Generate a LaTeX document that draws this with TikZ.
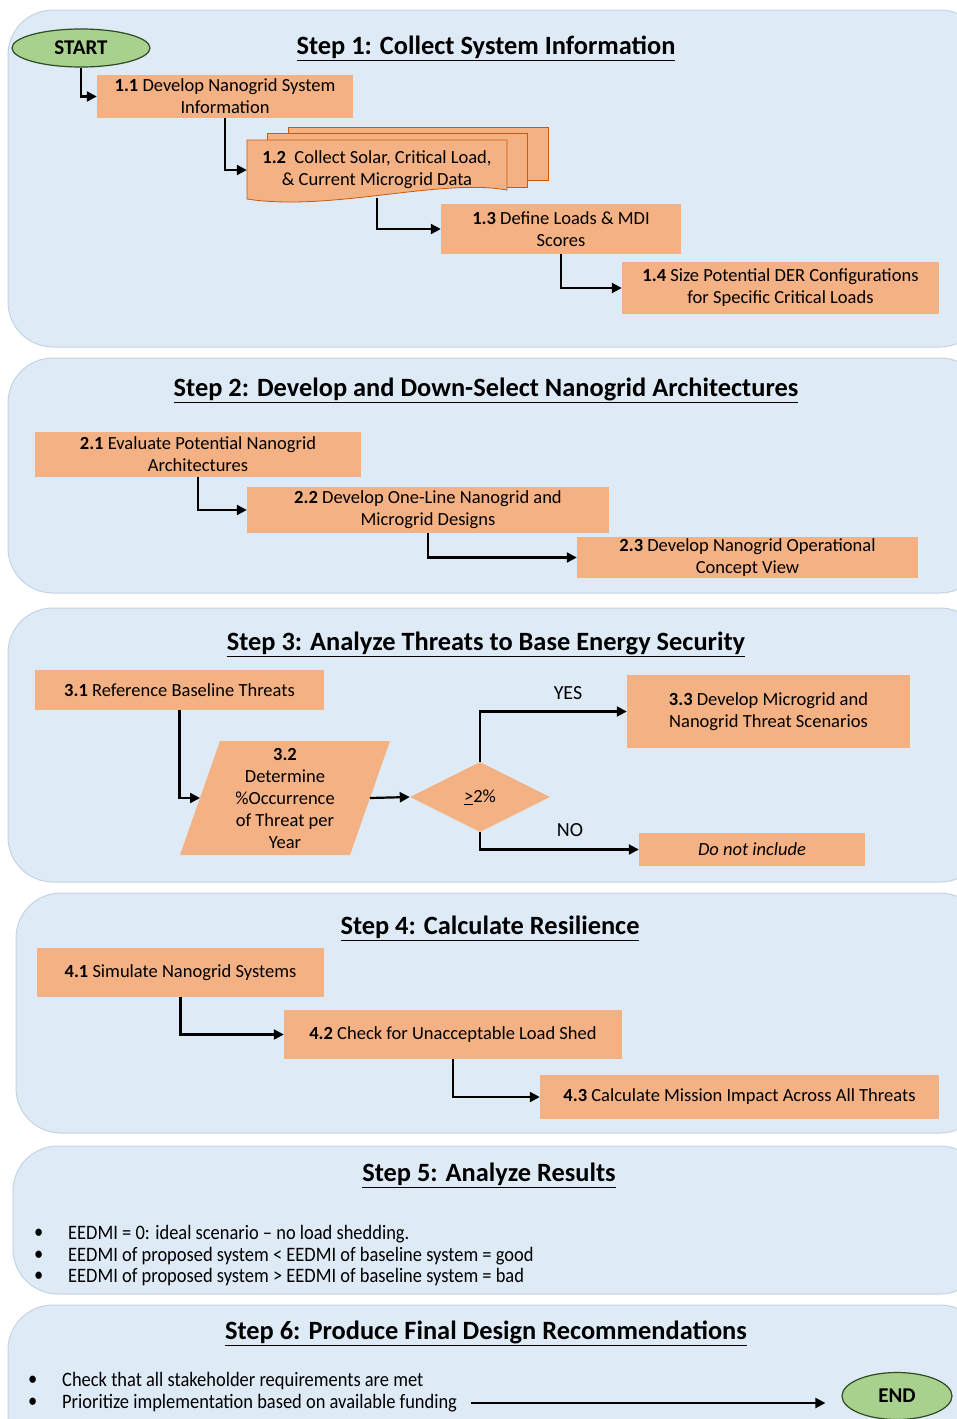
\documentclass[tikz,border=0pt]{standalone}
\usepackage{fontspec}
\setmainfont{Carlito}
\newfontfamily\narrowfont[FakeStretch=0.9,Ligatures=TeX]{Carlito}
\usetikzlibrary{arrows.meta,shapes.geometric}
\definecolor{panelfill}{HTML}{DEEBF7}
\definecolor{panelline}{HTML}{C3D3E4}
\definecolor{boxfill}{HTML}{F4B183}
\definecolor{boxline}{HTML}{C55A11}
\definecolor{ovalfill}{HTML}{A9D18E}
\definecolor{ovalline}{HTML}{2F4A22}
\begin{document}
\begin{tikzpicture}[x=1pt,y=-1pt,
  panel/.style={fill=panelfill, draw=panelline, line width=1pt, rounded corners=45pt},
  steptitle/.style={font=\fontsize{26.4}{30}\selectfont\bfseries},
  stepbox/.style={fill=boxfill, inner sep=2pt, align=center, font=\fontsize{18.5}{22}\selectfont},
  oval/.style={ellipse, fill=ovalfill, draw=ovalline, line width=1.2pt, font=\fontsize{21}{24}\selectfont\bfseries},
  layer/.style={fill=boxfill, draw=boxline, line width=0.8pt},
  arr/.style={-{Triangle[length=10pt,width=10pt]}, line width=2.2pt},
  lbl/.style={font=\fontsize{20}{24}\selectfont},
  bul/.style={anchor=west, inner sep=0pt, font=\fontsize{20.5}{24}\narrowfont}]
\clip (0,0) rectangle (957,1419);
\useasboundingbox (0,0) rectangle (957,1419);

\draw[panel] (8,10) rectangle (985,347);
\draw[panel] (8,358) rectangle (985,593);
\draw[panel] (8,608) rectangle (985,882);
\draw[panel] (16,893) rectangle (985,1133);
\draw[panel] (13,1146) rectangle (985,1294);
\draw[panel] (8,1305) rectangle (985,1470);

\node (t1) at (486,48) [steptitle] {\underline{Step 1: Collect System Information}};
\node (t2) at (486,390) [steptitle] {\underline{Step 2: Develop and Down-Select Nanogrid Architectures}};
\node (t3) at (486,644) [steptitle] {\underline{Step 3: Analyze Threats to Base Energy Security}};
\node (t4) at (490,928) [steptitle] {\underline{Step 4: Calculate Resilience}};
\node (t5) at (489,1175) [steptitle] {\underline{Step 5: Analyze Results}};
\node (t6) at (486,1333) [steptitle] {\underline{Step 6: Produce Final Design Recommendations}};

\node (start) at (81,48) [oval, minimum width=138pt, minimum height=38pt, inner sep=0pt] {START};
\node (n11) at (225,96.5) [stepbox, minimum width=256pt, minimum height=43pt] {\textbf{1.1} Develop Nanogrid System\\Information};
\draw[layer] (288,127) rectangle (548,180);
\draw[layer] (267,133) rectangle (527,187);
\draw[layer] (247,140) -- (507,140) -- (507,190) .. controls (440,178) and (330,212) .. (247,199) -- cycle;
\node (n12) at (377,170) [stepbox, fill=none, minimum width=260pt, minimum height=56pt] {\textbf{1.2}\ \ Collect Solar, Critical Load,\\\& Current Microgrid Data};
\node (n13) at (561,229) [stepbox, minimum width=240pt, minimum height=50pt] {\textbf{1.3} Define Loads \& MDI\\Scores};
\node (n14) at (780.5,288) [stepbox, minimum width=317pt, minimum height=52pt] {\textbf{1.4} Size Potential DER Configurations\\for Specific Critical Loads};
\draw[arr] (start.south) |- (n11.west);
\draw[arr] (n11.south) |- (n12.west);
\draw[arr] (n12.south) |- (n13.west);
\draw[arr] (n13.south) |- (n14.west);

\node (n21) at (198,454.5) [stepbox, minimum width=326pt, minimum height=45pt] {\textbf{2.1} Evaluate Potential Nanogrid\\Architectures};
\node (n22) at (428,510) [stepbox, minimum width=362pt, minimum height=46pt] {\textbf{2.2} Develop One-Line Nanogrid and\\Microgrid Designs};
\node (n23) at (747.5,557.5) [stepbox, minimum width=341pt, minimum height=41pt] {\textbf{2.3} Develop Nanogrid Operational\\Concept View};
\draw[arr] (n21.south) |- (n22.west);
\draw[arr] (n22.south) |- (n23.west);

\node (n31) at (179.5,690) [stepbox, minimum width=289pt, minimum height=40pt] {\textbf{3.1} Reference Baseline Threats};
\fill[boxfill] (180,855) -- (220,741) -- (390,741) -- (350,855) -- cycle;
\node (n32) at (285,798) [stepbox, fill=none] {\textbf{3.2}\\Determine\\\%Occurrence\\of Threat per\\Year};
\coordinate (n32w) at (200,798);
\coordinate (n32e) at (370,798);
\node (dia) at (480,797) [stepbox, diamond, minimum width=140pt, minimum height=70pt, inner sep=0pt] {\underline{>}2\%};
\node (n33) at (768.5,711.5) [stepbox, minimum width=283pt, minimum height=73pt] {\textbf{3.3} Develop Microgrid and\\Nanogrid Threat Scenarios};
\node (nno) at (752,849.5) [stepbox, minimum width=226pt, minimum height=33pt] {\textit{Do not include}};
\draw[arr] (n31.south) |- (n32w);
\draw[arr] (n32e) -- (dia.west);
\draw[arr] (dia.north) |- (n33.west);
\draw[arr] (dia.south) |- (nno.west);
\node (yes) at (568,693) [lbl] {YES};
\node (no) at (570,830) [lbl] {NO};

\node (n41) at (180.5,972.5) [stepbox, minimum width=287pt, minimum height=49pt] {\textbf{4.1} Simulate Nanogrid Systems};
\node (n42) at (453,1034.5) [stepbox, minimum width=338pt, minimum height=49pt] {\textbf{4.2} Check for Unacceptable Load Shed};
\node (n43) at (739.5,1097) [stepbox, minimum width=399pt, minimum height=44pt] {\textbf{4.3} Calculate Mission Impact Across All Threats};
\draw[arr] (n41.south) |- (n42.west);
\draw[arr] (n42.south) |- (n43.west);

\node (d51) at (34,1234) [bul] {\textbullet};
\node (d52) at (34,1256) [bul] {\textbullet};
\node (d53) at (34,1277) [bul] {\textbullet};
\node (b51) at (68,1234) [bul] {EEDMI = 0: ideal scenario – no load shedding.};
\node (b52) at (68,1256) [bul] {EEDMI of proposed system < EEDMI of baseline system = good};
\node (b53) at (68,1277) [bul] {EEDMI of proposed system > EEDMI of baseline system = bad};

\node (d61) at (28,1381) [bul] {\textbullet};
\node (d62) at (28,1403) [bul] {\textbullet};
\node (b61) at (62,1381) [bul] {Check that all stakeholder requirements are met};
\node (b62) at (62,1403) [bul] {Prioritize implementation based on available funding};
\node (end) at (897,1396) [oval, minimum width=110pt, minimum height=47pt, inner sep=0pt] {END};
\draw[arr, shorten <=14pt, shorten >=16pt] (b62.east) -- (b62.east -| end.west);
\end{tikzpicture}
\end{document}
